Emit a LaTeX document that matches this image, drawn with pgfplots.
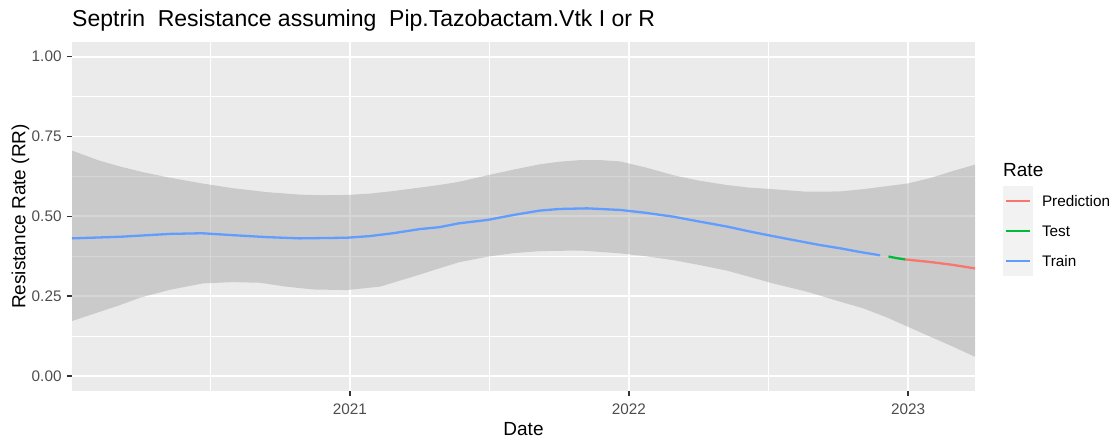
\documentclass[border=0pt]{standalone}
\usepackage{fontspec}
\setmainfont{Liberation Sans}
\usepackage{pgfplots}
\pgfplotsset{compat=1.18}
\usepgfplotslibrary{fillbetween}
\definecolor{panelbg}{HTML}{EBEBEB}
\definecolor{keybg}{HTML}{F2F2F2}
\definecolor{bandgray}{HTML}{999999}
\definecolor{trainc}{HTML}{619CFF}
\definecolor{testc}{HTML}{00BA38}
\definecolor{predc}{HTML}{F8766D}
\definecolor{ticklab}{HTML}{4D4D4D}
\definecolor{tickc}{HTML}{333333}
\begin{document}
\begin{tikzpicture}
\begin{axis}[
  at={(72pt,50pt)}, anchor=south west,
  scale only axis, width=903pt, height=349pt,
  xmin=2020.004, xmax=2023.24, ymin=-0.047, ymax=1.046,
  axis background/.style={fill=panelbg},
  axis line style={draw=none},
  xtick={2021,2022,2023}, xticklabels={2021,2022,2023},
  minor xtick={2020.5,2021.5,2022.5},
  ytick={0,0.25,0.5,0.75,1},
  minor ytick={0.125,0.375,0.625,0.875},
  xtick pos=bottom, ytick pos=left,
  grid=both,
  major grid style={white, line width=1.9pt},
  minor grid style={white, line width=0.95pt},
  tick align=outside,
  major tick length=4.8pt, minor tick length=0pt,
  tick style={tickc, line width=1.5pt},
  /pgf/number format/assume math mode=true,
  ticklabel style={font=\fontsize{15.3}{18}\selectfont, text=ticklab},
  xticklabel style={inner sep=0pt, yshift=-7.5pt},
  yticklabel style={/pgf/number format/fixed, /pgf/number format/fixed zerofill, /pgf/number format/precision=2, inner sep=0pt, xshift=-5.5pt},
  xlabel={Date},
  xlabel style={at={(axis description cs:0.5,0)}, anchor=north, yshift=-31.7pt, inner sep=0pt, font=\fontsize{19}{22}\selectfont},
  ylabel={Resistance Rate (RR)},
  ylabel style={at={(axis description cs:0,0.5)}, anchor=south, yshift=42.4pt, inner sep=0pt, font=\fontsize{19}{22}\selectfont},
  title={Septrin\ \ Resistance assuming\ \ Pip.Tazobactam.Vtk I or R},
  title style={at={(axis description cs:0,1)}, anchor=base west, yshift=9.4pt, inner sep=0pt, font=\fontsize{23}{27}\selectfont},
  legend style={at={(axis description cs:1.0310,0.5874)}, anchor=north west, draw=none, fill=none, inner sep=0pt, outer sep=0pt, row sep=0pt, column sep=9pt, font=\fontsize{15.3}{18}\selectfont, nodes={inner sep=0pt, outer sep=0pt, text height=11pt, text depth=0pt}},
  legend cell align=left,
  legend image code/.code={
    \fill[keybg, draw=none] (0pt,-15pt) rectangle (30pt,15pt);
    \draw[line width=2.2pt] (3pt,0pt) -- (27pt,0pt);
  },
  clip=false,
]
\addplot[name path=up, draw=none, forget plot] coordinates {
(2020.004,0.706) (2020.10,0.675) (2020.176,0.656) (2020.26,0.638) (2020.355,0.621)
(2020.47,0.603) (2020.581,0.588) (2020.70,0.576) (2020.821,0.568) (2020.90,0.566)
(2020.989,0.567) (2021.07,0.571) (2021.154,0.579) (2021.25,0.590) (2021.32,0.598)
(2021.39,0.608) (2021.495,0.629) (2021.59,0.647) (2021.681,0.663) (2021.75,0.671)
(2021.824,0.676) (2021.90,0.676) (2021.968,0.672) (2022.06,0.653) (2022.158,0.629)
(2022.25,0.612) (2022.351,0.598) (2022.43,0.590) (2022.516,0.585) (2022.638,0.577)
(2022.756,0.578) (2022.839,0.585) (2022.92,0.594) (2023.0,0.603) (2023.08,0.620)
(2023.161,0.642) (2023.24,0.662)
};
\addplot[name path=lo, draw=none, forget plot] coordinates {
(2020.004,0.172) (2020.10,0.200) (2020.176,0.222) (2020.247,0.245) (2020.355,0.270)
(2020.473,0.290) (2020.58,0.294) (2020.677,0.292) (2020.77,0.280) (2020.867,0.271)
(2020.989,0.269) (2021.108,0.280) (2021.226,0.311) (2021.32,0.337) (2021.39,0.356)
(2021.495,0.374) (2021.59,0.385) (2021.681,0.391) (2021.824,0.393) (2021.968,0.384)
(2022.06,0.375) (2022.158,0.363) (2022.25,0.348) (2022.351,0.330) (2022.43,0.311)
(2022.516,0.290) (2022.638,0.264) (2022.756,0.233) (2022.839,0.212) (2022.92,0.185)
(2023.0,0.154) (2023.08,0.123) (2023.161,0.092) (2023.24,0.060)
};
\addplot[fill=bandgray, fill opacity=0.4, draw=none, forget plot] fill between[of=up and lo];
\addplot[color=predc, line width=2.3pt] coordinates {
(2022.99,0.365) (2023.08,0.357) (2023.16,0.348) (2023.24,0.337)
};
\addlegendentry{Prediction}
\addplot[color=testc, line width=2.3pt] coordinates {
(2022.93,0.374) (2022.96,0.369) (2022.99,0.365)
};
\addlegendentry{Test}
\addplot[color=trainc, line width=2.3pt] coordinates {
(2020.004,0.431) (2020.176,0.436) (2020.355,0.445) (2020.47,0.447) (2020.581,0.441)
(2020.70,0.435) (2020.821,0.431) (2020.989,0.433) (2021.07,0.438) (2021.154,0.447)
(2021.25,0.460) (2021.32,0.466) (2021.39,0.478) (2021.495,0.489) (2021.59,0.505)
(2021.681,0.518) (2021.75,0.523) (2021.85,0.525) (2021.968,0.520) (2022.06,0.511)
(2022.158,0.499) (2022.25,0.484) (2022.351,0.468) (2022.43,0.453) (2022.516,0.438)
(2022.60,0.424) (2022.685,0.410) (2022.756,0.400) (2022.83,0.388) (2022.90,0.378)
};
\addlegendentry{Train}
\node[anchor=base west, inner sep=0pt, font=\fontsize{19}{22}\selectfont] at (axis description cs:1.0310,0.6132) {Rate};
\end{axis}
\path (0,0) rectangle (1118pt,441pt);
\end{tikzpicture}
\end{document}
